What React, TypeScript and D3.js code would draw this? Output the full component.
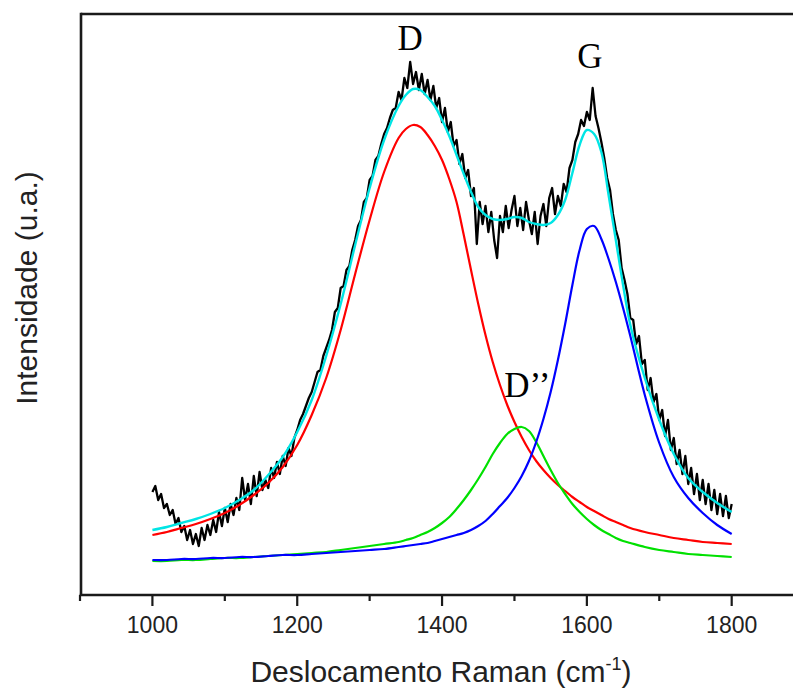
import React from "react";
import * as d3 from "d3";

// Wavenumber grid of the fitted curves (cm-1)
const fitWavenumbers = [
  1000, 1020, 1040, 1060, 1080, 1100, 1120, 1140, 1160, 1180, 1200, 1220, 1240, 1260, 1280, 1300, 1320, 1340,
  1350, 1360, 1370, 1380, 1390, 1400, 1410, 1420, 1430, 1440, 1450, 1460, 1470, 1480, 1490, 1500, 1510, 1520,
  1530, 1540, 1550, 1560, 1570, 1580, 1590, 1600, 1610, 1620, 1630, 1640, 1650, 1660,
  1680, 1700, 1720, 1740, 1760, 1780, 1800,
];

// D band (red)
const bandD = [
  35, 38, 42, 46, 51, 57, 65, 75, 87, 103, 125, 155, 192, 240, 296, 350, 398, 432,
  441, 445, 443, 435, 424, 410, 391, 368, 335, 300, 266, 235, 208, 185, 165, 148, 133, 120,
  109, 100, 92, 85, 79, 73, 68, 63, 59, 55, 51, 48, 45, 42,
  38, 35, 32, 30, 28, 27, 26,
];

// D'' band (green)
const bandD2 = [
  9, 9, 10, 10, 11, 12, 12, 13, 14, 15, 16, 17, 18, 20, 22, 24, 26, 28,
  30, 32, 35, 38, 42, 47, 53, 61, 70, 80, 91, 103, 116, 127, 136, 141, 143, 139,
  128, 114, 100, 87, 76, 66, 58, 51, 45, 40, 36, 32, 29, 27,
  23, 20, 18, 16, 15, 14, 13,
];

// G band (blue)
const bandG = [
  10, 10, 11, 11, 12, 12, 13, 13, 14, 15, 15, 16, 17, 18, 19, 20, 21, 23,
  24, 25, 26, 27, 29, 31, 33, 35, 37, 40, 44, 49, 56, 64, 72, 82, 94, 109,
  128, 151, 178, 210, 246, 285, 320, 341, 344, 331, 311, 288, 262, 234,
  175, 127, 93, 72, 57, 45, 36,
];

// Cumulative fit (cyan)
const fitSum = [
  40, 43, 47, 51, 56, 62, 70, 80, 95, 113, 138, 170, 214, 266, 325, 382, 430, 464,
  475, 481, 480, 473, 464, 450, 434, 415, 396, 378, 363, 355, 351, 350, 351, 353, 352, 348,
  346, 345, 347, 355, 370, 397, 425, 440, 436, 418, 375, 330, 285, 245,
  192, 150, 116, 92, 78, 67, 58,
];

// Measured spectrum (black), 1000–1800 cm-1 every 4 cm-1
const spectrumStart = 1000;
const spectrumStep = 4;
const spectrum = [
  78, 84, 70, 76, 62, 66, 55, 60, 46, 52,
  38, 44, 30, 40, 26, 36, 24, 42, 30, 45,
  35, 50, 38, 58, 44, 62, 48, 66, 55, 72,
  60, 92, 70, 86, 66, 94, 74, 98, 80, 90,
  82, 102, 92, 108, 96, 114, 104, 122, 114, 132,
  140, 150, 156, 164, 172, 178, 188, 198, 200, 214,
  222, 230, 240, 258, 262, 282, 284, 300, 304, 320,
  330, 344, 350, 368, 372, 390, 394, 410, 414, 426,
  436, 442, 452, 460, 462, 478, 470, 492, 482, 508,
  486, 498, 480, 496, 476, 490, 470, 484, 462, 472,
  448, 462, 438, 448, 424, 430, 406, 416, 392, 400,
  374, 382, 326, 368, 346, 364, 338, 358, 330, 312,
  354, 338, 364, 342, 360, 374, 344, 362, 340, 368,
  350, 336, 358, 326, 354, 366, 344, 372, 382, 356,
  374, 364, 386, 378, 402, 410, 428, 436, 450, 444,
  458, 450, 482, 454, 442, 428, 412, 392, 380, 356,
  340, 330, 302, 290, 276, 252, 250, 226, 234, 206,
  210, 180, 192, 168, 176, 150, 160, 134, 150, 120,
  132, 106, 120, 96, 114, 86, 102, 76, 96, 70,
  90, 66, 86, 60, 80, 56, 76, 54, 74, 52,
  66,
];

const majorTicks = [1000, 1200, 1400, 1600, 1800];
const minorTicks = [900, 1100, 1300, 1500, 1700, 1900];

const peakLabels = [
  { text: "D", wn: 1356, level: 520 },
  { text: "G", wn: 1604, level: 502 },
];

const W = 793;
const H = 688;
const left = 81;
const top = 14;
const bottom = 595;

export default function App() {
  const x = d3.scaleLinear().domain([900, 1900]).range([80, 804.1]);
  const y = d3.scaleLinear().domain([0, 500]).range([570, 70]);

  const fitLine = (vals: number[]) =>
    d3
      .line<number>()
      .x((_, i) => x(fitWavenumbers[i]))
      .y((v) => y(v))
      .curve(d3.curveCatmullRom.alpha(0.5))(vals) || "";

  const specLine =
    d3
      .line<number>()
      .x((_, i) => x(spectrumStart + i * spectrumStep))
      .y((v) => y(v))(spectrum) || "";

  const axisColor = "#1a1a1a";

  return (
    <svg
      width={W}
      height={H}
      style={{ position: "absolute", left: 0, top: 0, background: "#fff" }}
      fontFamily="'Liberation Sans', Arial, sans-serif"
    >
      <rect x={0} y={0} width={W} height={H} fill="#fff" />
      {/* frame */}
      <line x1={left} x2={W + 5} y1={top} y2={top} stroke={axisColor} strokeWidth={2.6} />
      <line x1={left} x2={left} y1={top - 1.3} y2={bottom} stroke={axisColor} strokeWidth={2.6} />
      <line x1={left - 1.3} x2={W + 5} y1={bottom} y2={bottom} stroke={axisColor} strokeWidth={2.6} />
      {majorTicks.map((t) => (
        <g key={"M" + t}>
          <line x1={x(t)} x2={x(t)} y1={bottom} y2={bottom + 11} stroke={axisColor} strokeWidth={2.2} />
          <text x={x(t)} y={633} textAnchor="middle" fontSize={23} fill="#222">
            {t}
          </text>
        </g>
      ))}
      {minorTicks.map((t) => (
        <line key={"m" + t} x1={x(t)} x2={x(t)} y1={bottom} y2={bottom + 6} stroke={axisColor} strokeWidth={2.2} />
      ))}

      {/* curves */}
      <path d={specLine} fill="none" stroke="#000" strokeWidth={2.3} strokeLinejoin="round" />
      <path d={fitLine(bandD)} fill="none" stroke="#ff0000" strokeWidth={2.2} />
      <path d={fitLine(bandD2)} fill="none" stroke="#00e000" strokeWidth={2.2} />
      <path d={fitLine(bandG)} fill="none" stroke="#0000ff" strokeWidth={2.2} />
      <path d={fitLine(fitSum)} fill="none" stroke="#00e5e5" strokeWidth={2.4} />

      {/* peak labels */}
      {peakLabels.map((p) => (
        <text
          key={p.text}
          x={x(p.wn)}
          y={y(p.level)}
          textAnchor="middle"
          fontFamily="'Liberation Serif', 'Times New Roman', serif"
          fontSize={35}
          fill="#000"
        >
          {p.text}
        </text>
      ))}
      <text
        x={x(1486)}
        y={y(173)}
        fontFamily="'Liberation Serif', 'Times New Roman', serif"
        fontSize={35}
        fill="#000"
      >
        D’’
      </text>

      {/* axis titles */}
      <text x={441} y={682} textAnchor="middle" fontSize={30} fill="#222">
        Deslocamento Raman (cm
        <tspan dy={-12} fontSize={18}>
          -1
        </tspan>
        <tspan dy={12}>)</tspan>
      </text>
      <text
        transform="translate(37,288) rotate(-90)"
        textAnchor="middle"
        fontSize={30}
        fill="#222"
      >
        Intensidade (u.a.)
      </text>
    </svg>
  );
}
